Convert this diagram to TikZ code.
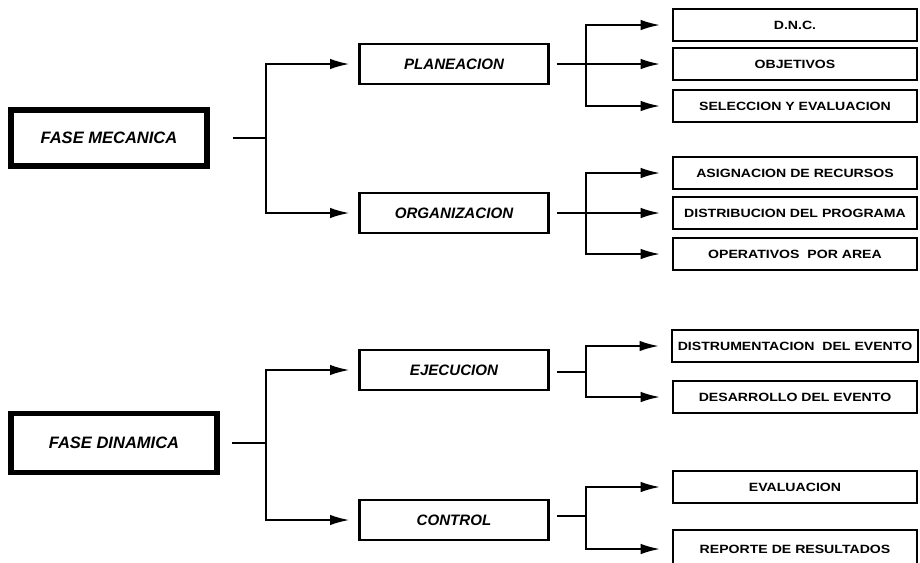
\documentclass[tikz,border=0pt]{standalone}
\usepackage{fontspec}
\setmainfont{Liberation Sans}
\newfontfamily\smallboxfont[FakeStretch=1.18]{Liberation Sans}
\usetikzlibrary{arrows.meta}
\begin{document}
\begin{tikzpicture}[x=0.02cm,y=-0.02cm,
   fase/.style={draw, line width=3.2pt, minimum width=3.92cm, minimum height=1.12cm, font=\fontsize{9.4}{11}\selectfont\bfseries\itshape},
   etapa/.style={draw, line width=1.6pt, minimum width=3.78cm, minimum height=0.8cm, font=\fontsize{8.6}{10}\selectfont\bfseries\itshape},
   tarea/.style={draw, line width=0.9pt, minimum width=4.88cm, minimum height=0.64cm, font=\fontsize{6.8}{8}\selectfont\smallboxfont\bfseries},
   rama/.style={line width=1.1pt},
   flecha/.style={line width=1.1pt, -{Latex[length=11pt,width=6pt]}}]
   \useasboundingbox (0,0) rectangle (920,562);
   \clip (0,0) rectangle (920,562);

   \node[fase] (fm) at (109,138) {FASE MECANICA};
   \node[fase, minimum width=4.12cm, minimum height=1.18cm] (fd) at (114,443) {FASE DINAMICA};

   \node[etapa] (plan) at (454,64) {PLANEACION};
   \node[etapa] (org) at (454,213) {ORGANIZACION};
   \node[etapa] (ejec) at (454,370) {EJECUCION};
   \node[etapa] (ctrl) at (454,520) {CONTROL};

   \node[tarea] (dnc) at (795,25) {D.N.C.};
   \node[tarea] (obj) at (795,64) {OBJETIVOS};
   \node[tarea] (sel) at (795,106) {SELECCION Y EVALUACION};
   \node[tarea] (asig) at (795,173) {ASIGNACION DE RECURSOS};
   \node[tarea] (dist) at (795,213) {DISTRIBUCION DEL PROGRAMA};
   \node[tarea] (oper) at (795,254) {OPERATIVOS\ \ POR AREA};
   \node[tarea] (instr) at (795,346) {DISTRUMENTACION\ \ DEL EVENTO};
   \node[tarea] (desa) at (795,397) {DESARROLLO DEL EVENTO};
   \node[tarea] (eval) at (795,487) {EVALUACION};
   \node[tarea, minimum height=0.76cm] (rep) at (795,549) {REPORTE DE RESULTADOS};

   % puntos de reparto
   \coordinate (jfm) at (266,138);
   \coordinate (jfd) at (266,443);
   \coordinate (jplan) at (586,64);
   \coordinate (jorg) at (586,213);
   \coordinate (jejec) at (586,372);
   \coordinate (jctrl) at (586,516);

   \draw[rama, shorten <=13pt] (fm.east) -- (jfm);
   \draw[rama, shorten <=7pt] (fd.east) -- (jfd);
   \draw[flecha, shorten >=5pt] (jfm) |- (plan.west);
   \draw[flecha, shorten >=5pt] (jfm) |- (org.west);
   \draw[flecha, shorten >=5pt] (jfd) |- (ejec.west);
   \draw[flecha, shorten >=5pt] (jfd) |- (ctrl.west);

   \draw[rama, shorten <=4pt] (plan.east) -- (jplan);
   \draw[rama, shorten <=4pt] (org.east) -- (jorg);
   \draw[rama, shorten <=4pt] (ejec.east |- jejec) -- (jejec);
   \draw[rama, shorten <=4pt] (ctrl.east |- jctrl) -- (jctrl);

   \draw[flecha, shorten >=7pt] (jplan) |- (dnc.west);
   \draw[flecha, shorten >=7pt] (jplan) -- (obj.west);
   \draw[flecha, shorten >=7pt] (jplan) |- (sel.west);
   \draw[flecha, shorten >=7pt] (jorg) |- (asig.west);
   \draw[flecha, shorten >=7pt] (jorg) -- (dist.west);
   \draw[flecha, shorten >=7pt] (jorg) |- (oper.west);
   \draw[flecha, shorten >=7pt] (jejec) |- (instr.west);
   \draw[flecha, shorten >=7pt] (jejec) |- (desa.west);
   \draw[flecha, shorten >=7pt] (jctrl) |- (eval.west);
   \draw[flecha, shorten >=7pt] (jctrl) |- (rep.west);
\end{tikzpicture}
\end{document}
